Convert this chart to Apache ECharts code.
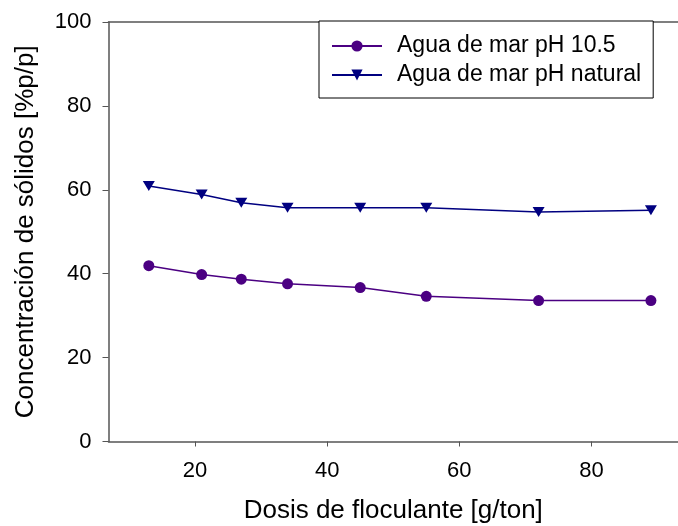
<!DOCTYPE html>
<html>
<head>
<meta charset="utf-8">
<script src="https://cdn.jsdelivr.net/npm/echarts@6/dist/echarts.min.js"></script>
<style>
html,body{margin:0;padding:0;background:#fff;}
#chart{width:678px;height:526px;}
</style>
</head>
<body>
<div id="chart"></div>
<script>
var dosis = [13, 21, 27, 34, 45, 55, 72, 89];
var ph105 = [41.9, 39.8, 38.7, 37.6, 36.7, 34.6, 33.6, 33.6];
var phNatural = [60.9, 58.9, 56.9, 55.7, 55.7, 55.7, 54.7, 55.1];
var xTicks = [20, 40, 60, 80];
var seriesNames = ['Agua de mar pH 10.5', 'Agua de mar pH natural'];
var xTitle = 'Dosis de floculante [g/ton]';
var yTitle = 'Concentración de sólidos [%p/p]';

function pairs(xs, ys) { return xs.map(function (x, i) { return [x, ys[i]]; }); }

var FONT = '"Liberation Sans", Arial, sans-serif';
var axisColor = '#555';

var chart = echarts.init(document.getElementById('chart'), null, {renderer: 'canvas'});
chart.setOption({
  animation: false,
  backgroundColor: '#fff',
  grid: {left: 108.5, right: 0, top: 22, bottom: 84.5, containLabel: false, outerBoundsMode: 'none'},
  xAxis: [{
    type: 'value', min: 6.9, max: 93.1,
    name: xTitle, nameLocation: 'middle', nameGap: 56,
    nameTextStyle: {fontSize: 26, color: '#000', fontFamily: FONT},
    axisLine: {show: true, lineStyle: {color: axisColor, width: 1.5}},
    axisTick: {show: true, length: 5, customValues: xTicks, lineStyle: {color: axisColor, width: 1}},
    axisLabel: {customValues: xTicks, fontSize: 22, color: '#000', fontFamily: FONT, margin: 18},
    splitLine: {show: false}
  }, {
    type: 'value', position: 'top', min: 6.9, max: 93.1,
    axisLine: {show: true, onZero: false, lineStyle: {color: axisColor, width: 1.5}},
    axisTick: {show: false}, axisLabel: {show: false}, splitLine: {show: false}
  }],
  yAxis: {
    type: 'value', min: 0, max: 100, interval: 20,
    name: yTitle, nameLocation: 'middle', nameGap: 70, nameRotate: 90,
    nameTextStyle: {fontSize: 26, color: '#000', fontFamily: FONT},
    axisLine: {show: true, lineStyle: {color: axisColor, width: 1.5}},
    axisTick: {show: true, length: 6, lineStyle: {color: axisColor, width: 1}},
    axisLabel: {fontSize: 22, color: '#000', fontFamily: FONT, margin: 17},
    splitLine: {show: false}
  },
  legend: {
    orient: 'vertical', left: 319, top: 21,
    padding: [13, 12, 11, 12],
    borderColor: '#000', borderWidth: 1, backgroundColor: '#fff',
    itemWidth: 50, itemHeight: 14, itemGap: 5,
    textStyle: {fontSize: 23, lineHeight: 24, color: '#000', fontFamily: FONT, padding: [0, 0, 0, 10]},
    data: seriesNames
  },
  series: [{
    name: seriesNames[0], type: 'line', data: pairs(dosis, ph105),
    symbol: 'circle', symbolSize: 11,
    itemStyle: {color: '#4B0082'},
    lineStyle: {color: '#4B0082', width: 1.5}
  }, {
    name: seriesNames[1], type: 'line', data: pairs(dosis, phNatural),
    symbol: 'triangle', symbolRotate: 180, symbolSize: [12, 10],
    itemStyle: {color: '#000080'},
    lineStyle: {color: '#000080', width: 1.5}
  }]
});
</script>
</body>
</html>
